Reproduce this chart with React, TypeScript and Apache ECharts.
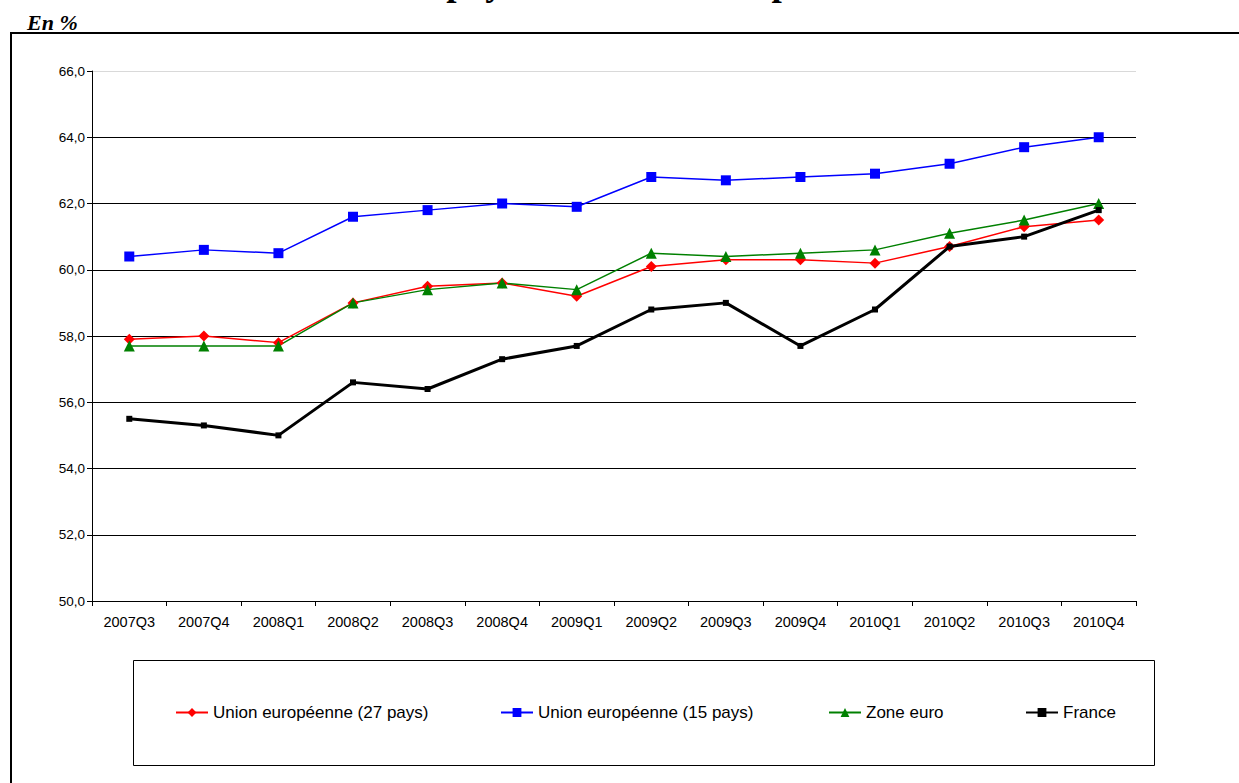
import React, { useEffect, useRef } from "react";
import * as echarts from "echarts";

const categories = ["2007Q3", "2007Q4", "2008Q1", "2008Q2", "2008Q3", "2008Q4", "2009Q1", "2009Q2", "2009Q3", "2009Q4", "2010Q1", "2010Q2", "2010Q3", "2010Q4"];
const ue27 = [57.9, 58.0, 57.8, 59.0, 59.5, 59.6, 59.2, 60.1, 60.3, 60.3, 60.2, 60.7, 61.3, 61.5];
const ue15 = [60.4, 60.6, 60.5, 61.6, 61.8, 62.0, 61.9, 62.8, 62.7, 62.8, 62.9, 63.2, 63.7, 64.0];
const zoneEuro = [57.7, 57.7, 57.7, 59.0, 59.4, 59.6, 59.4, 60.5, 60.4, 60.5, 60.6, 61.1, 61.5, 62.0];
const france = [55.5, 55.3, 55.0, 56.6, 56.4, 57.3, 57.7, 58.8, 59.0, 57.7, 58.8, 60.7, 61.0, 61.8];

const seriesNames = ["Union européenne (27 pays)", "Union européenne (15 pays)", "Zone euro", "France"];
const yMin = 50;
const yMax = 66;
const yStep = 2;

const SANS = "'Liberation Sans', Arial, sans-serif";
const SERIF = "'Liberation Serif', 'Times New Roman', serif";

export default function App() {
  const ref = useRef<HTMLDivElement>(null);
  useEffect(() => {
    if (!ref.current) return;
    const chart = echarts.init(ref.current, null, { renderer: "svg" });
    const legendLefts = [175, 500, 828, 1025];
    const option: any = {
      animation: false,
      backgroundColor: "#ffffff",
      textStyle: { fontFamily: SANS },
      grid: { left: 92, right: 103, top: 71, bottom: 182, containLabel: false },
      xAxis: {
        type: "category",
        data: categories,
        boundaryGap: true,
        axisLine: { lineStyle: { color: "#000", width: 1 } },
        axisTick: { show: true, length: 5, lineStyle: { color: "#000" }, alignWithLabel: false },
        axisLabel: { color: "#000", fontSize: 14.5, fontFamily: SANS, margin: 13, interval: 0 },
        splitLine: { show: false },
      },
      yAxis: {
        type: "value",
        min: yMin,
        max: yMax,
        interval: yStep,
        axisLine: { show: true, lineStyle: { color: "#000", width: 1 } },
        axisTick: { show: true, length: 5, lineStyle: { color: "#000" } },
        axisLabel: {
          color: "#000",
          fontSize: 13.5,
          fontFamily: SANS,
          margin: 7,
          formatter: (v: number) => v.toFixed(1).replace(".", ","),
        },
        splitLine: {
          show: true,
          lineStyle: { color: ["#000", "#000", "#000", "#000", "#000", "#000", "#000", "#000", "#d9d9d9"], width: 1 },
        },
      },
      legend: seriesNames.map((n, i) => ({
        data: [n],
        left: legendLefts[i],
        top: 704,
        itemWidth: 32,
        itemHeight: 11,
        padding: 0,
        textStyle: { color: "#000", fontSize: 17, fontFamily: SANS },
        selectedMode: false,
      })),
      series: [
        {
          name: seriesNames[0],
          type: "line",
          data: ue27,
          symbol: "diamond",
          symbolSize: 11,
          itemStyle: { color: "#ff0000" },
          lineStyle: { color: "#ff0000", width: 1.5 },
          z: 3,
        },
        {
          name: seriesNames[1],
          type: "line",
          data: ue15,
          symbol: "rect",
          symbolSize: 10,
          itemStyle: { color: "#0000ff" },
          lineStyle: { color: "#0000ff", width: 1.5 },
          z: 3,
        },
        {
          name: seriesNames[2],
          type: "line",
          data: zoneEuro,
          symbol: "triangle",
          symbolSize: 11,
          itemStyle: { color: "#008000" },
          lineStyle: { color: "#008000", width: 1.5 },
          z: 3,
        },
        {
          name: seriesNames[3],
          type: "line",
          data: france,
          symbol: "rect",
          symbolSize: 6,
          itemStyle: { color: "#000000" },
          lineStyle: { color: "#000000", width: 3 },
          z: 4,
        },
      ],
      graphic: [
        {
          type: "rect",
          shape: { x: 11, y: 33, width: 1260, height: 800 },
          style: { fill: "none", stroke: "#000", lineWidth: 2 },
          silent: true,
        },
        {
          type: "rect",
          shape: { x: 133.5, y: 660.5, width: 1021, height: 105 },
          style: { fill: "none", stroke: "#000", lineWidth: 1 },
          silent: true,
        },
        {
          type: "text",
          x: 27,
          y: 22,
          style: {
            text: "En %",
            font: `italic bold 22px ${SERIF}`,
            fill: "#000",
            textVerticalAlign: "middle",
          },
        },
        {
          type: "text",
          x: 634,
          y: 1,
          style: {
            text: "des pays de l'Union européenne",
            font: `bold 37px ${SERIF}`,
            fill: "#000",
            textAlign: "center",
            textVerticalAlign: "bottom",
          },
        },
      ],
    };
    chart.setOption(option);
    return () => chart.dispose();
  }, []);
  return (
    <div
      ref={ref}
      style={{ position: "absolute", left: 0, top: 0, width: 1239, height: 783, background: "#fff" }}
    />
  );
}
